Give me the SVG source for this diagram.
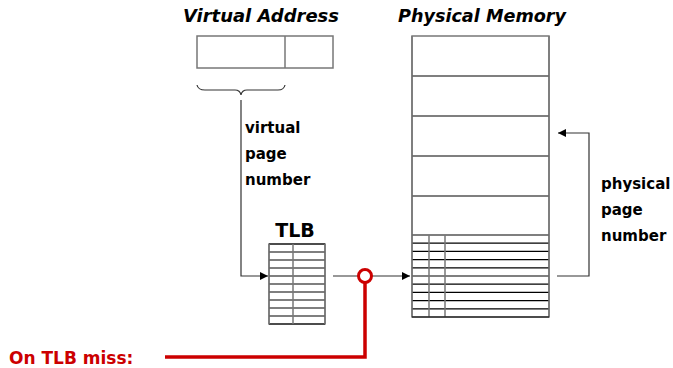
<svg xmlns="http://www.w3.org/2000/svg" width="673" height="368" viewBox="0 0 673 368">
  <defs>
    <style>
      .title { font-family: "DejaVu Sans", "Liberation Sans", sans-serif; font-weight: bold; font-style: italic; font-size: 17px; fill: #000; }
      .lbl { font-family: "DejaVu Sans", "Liberation Sans", sans-serif; font-weight: bold; font-size: 15px; fill: #000; }
      .tlb { font-family: "DejaVu Sans", "Liberation Sans", sans-serif; font-weight: bold; font-size: 19px; fill: #000; }
      .red { font-family: "DejaVu Sans", "Liberation Sans", sans-serif; font-weight: bold; font-size: 17px; fill: #cc0000; }
      .box { fill: #fff; stroke: #777; stroke-width: 1.5; }
      .hl { stroke: #000; stroke-width: 1.2; fill: none; }
      .vl { stroke: #777; stroke-width: 1.5; fill: none; }
      .conn { stroke: #333; stroke-width: 1.2; fill: none; }
      .miss { stroke: #cc0000; stroke-width: 3.5; fill: none; }
    </style>
    <marker id="arrow" viewBox="0 0 10 10" refX="10" refY="5" markerWidth="8" markerHeight="8" markerUnits="userSpaceOnUse" orient="auto">
      <path d="M0,0 L10,5 L0,10 z" fill="#000"/>
    </marker>
  </defs>

  <!-- virtual address -->
  <g id="virtual-address">
    <text class="title" x="261" y="22" text-anchor="middle" textLength="156" lengthAdjust="spacingAndGlyphs">Virtual Address</text>
    <rect class="box" x="197" y="36" width="136" height="32"/>
    <line class="vl" x1="285" y1="36" x2="285" y2="68"/>
    <path class="conn" d="M197,85 Q198,90 205,90 L235,90 Q240,90 241,95 Q242,90 247,90 L278,90 Q284,90 285,85"/>
    <text class="lbl" x="245" y="133">virtual</text>
    <text class="lbl" x="245" y="159">page</text>
    <text class="lbl" x="245" y="185">number</text>
  </g>

  <!-- physical memory -->
  <g id="physical-memory">
    <text class="title" x="482" y="22" text-anchor="middle" textLength="168" lengthAdjust="spacingAndGlyphs">Physical Memory</text>
    <rect class="box" x="412" y="36" width="137" height="281"/>
    <line class="hl" x1="412" y1="76" x2="549" y2="76"/>
    <line class="hl" x1="412" y1="116" x2="549" y2="116"/>
    <line class="hl" x1="412" y1="156" x2="549" y2="156"/>
    <line class="hl" x1="412" y1="196" x2="549" y2="196"/>
    <g class="hl">
      <line x1="412" y1="235" x2="549" y2="235"/>
      <line x1="412" y1="243.2" x2="549" y2="243.2"/>
      <line x1="412" y1="251.4" x2="549" y2="251.4"/>
      <line x1="412" y1="259.6" x2="549" y2="259.6"/>
      <line x1="412" y1="267.8" x2="549" y2="267.8"/>
      <line x1="412" y1="276" x2="549" y2="276"/>
      <line x1="412" y1="284.2" x2="549" y2="284.2"/>
      <line x1="412" y1="292.4" x2="549" y2="292.4"/>
      <line x1="412" y1="300.6" x2="549" y2="300.6"/>
      <line x1="412" y1="308.8" x2="549" y2="308.8"/>
    </g>
    <line class="vl" x1="429" y1="235" x2="429" y2="317"/>
    <line class="vl" x1="445" y1="235" x2="445" y2="317"/>
    <line class="vl" x1="412" y1="36" x2="412" y2="317"/>
    <line class="vl" x1="549" y1="36" x2="549" y2="317"/>
    <line class="hl" x1="412" y1="317" x2="549" y2="317"/>
  </g>

  <!-- TLB -->
  <g id="tlb">
    <text class="tlb" x="295" y="237" text-anchor="middle">TLB</text>
    <rect class="box" x="269" y="244" width="56" height="80"/>
    <g class="hl">
      <line x1="269" y1="244" x2="325" y2="244"/>
      <line x1="269" y1="252" x2="325" y2="252"/>
      <line x1="269" y1="260" x2="325" y2="260"/>
      <line x1="269" y1="268" x2="325" y2="268"/>
      <line x1="269" y1="276" x2="325" y2="276"/>
      <line x1="269" y1="284" x2="325" y2="284"/>
      <line x1="269" y1="292" x2="325" y2="292"/>
      <line x1="269" y1="300" x2="325" y2="300"/>
      <line x1="269" y1="308" x2="325" y2="308"/>
      <line x1="269" y1="316" x2="325" y2="316"/>
      <line x1="269" y1="324" x2="325" y2="324"/>
    </g>
    <line class="vl" x1="269" y1="244" x2="269" y2="324"/>
    <line class="vl" x1="293" y1="244" x2="293" y2="324"/>
    <line class="vl" x1="325" y1="244" x2="325" y2="324"/>
  </g>

  <!-- physical page number label -->
  <g id="ppn-label">
    <text class="lbl" x="601" y="189">physical</text>
    <text class="lbl" x="601" y="215">page</text>
    <text class="lbl" x="601" y="241">number</text>
  </g>

  <!-- miss label -->
  <g id="miss-label">
    <text class="red" x="9" y="364">On TLB miss:</text>
  </g>

  <!-- connectors -->
  <g id="connectors">
    <path class="conn" d="M241,100 L241,276 L268,276" marker-end="url(#arrow)"/>
    <path class="conn" d="M333,276 L410,276" marker-end="url(#arrow)"/>
    <path class="conn" d="M557,276 L589,276 L589,133 L558,133" marker-end="url(#arrow)"/>
    <path class="miss" d="M365,283 L365,357 L165,357"/>
    <circle cx="365" cy="276" r="6.5" fill="#fff" stroke="#cc0000" stroke-width="3"/>
  </g>
</svg>
